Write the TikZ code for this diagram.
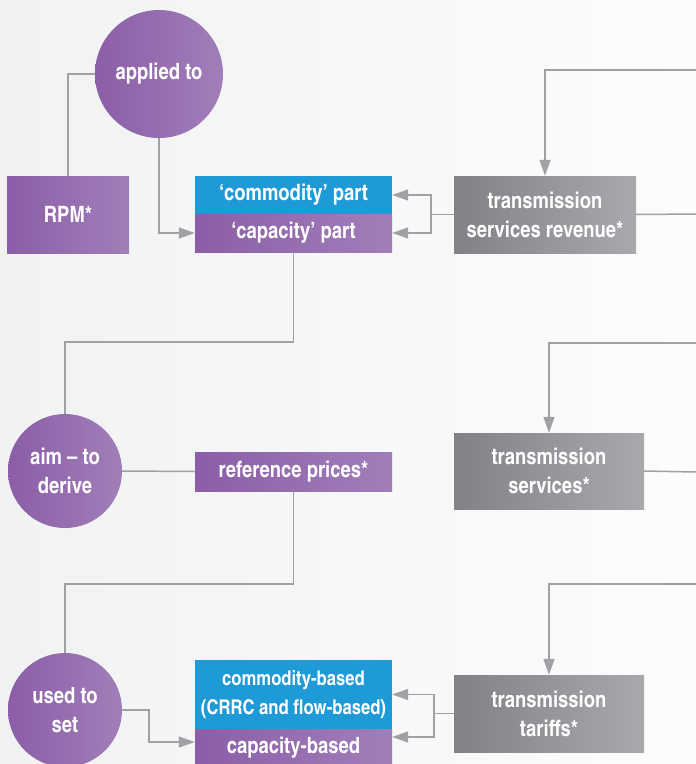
\documentclass[tikz,border=0pt]{standalone}
\usepackage{fontspec}
\setmainfont{texgyreheroscn}[Extension=.otf, UprightFont=*-regular, BoldFont=*-bold]
\usetikzlibrary{arrows.meta}

\definecolor{purpleL}{RGB}{139,94,167}
\definecolor{purpleR}{RGB}{161,126,185}
\definecolor{blueBox}{RGB}{30,155,215}
\definecolor{grayL}{RGB}{128,130,133}
\definecolor{grayR}{RGB}{168,169,172}
\definecolor{lineGray}{RGB}{160,161,164}
\definecolor{bgL}{RGB}{241,242,242}
\definecolor{bgR}{RGB}{252,252,252}

\tikzset{
  every node/.style={text=white, font=\fontsize{22.5}{29}\selectfont\bfseries, align=center, inner sep=0pt},
  purplebox/.style={rectangle, left color=purpleL, right color=purpleR},
  bluebox/.style={rectangle, fill=blueBox},
  graybox/.style={rectangle, left color=grayL, right color=grayR},
  bubble/.style={circle, left color=purpleL, right color=purpleR},
  grayline/.style={draw=lineGray, line width=1.5pt},
  grayarrow/.style={grayline, -{Triangle[length=16pt, width=11pt]}}
}

\begin{document}
\begin{tikzpicture}[x=1pt, y=-1pt]
\useasboundingbox (0,0) rectangle (696,764);
\clip (0,0) rectangle (696,764);
\shade[left color=bgL, right color=bgR] (0,0) rectangle (696,764);

\node[bubble, minimum size=128pt] (applied) at (159,74) {applied to};
\node[purplebox, minimum width=122pt, minimum height=77pt] (rpm) at (68,214.5) {RPM*};
\node[bluebox, minimum width=197pt, minimum height=38pt] (compart) at (293.5,195) {‘commodity’ part};
\node[purplebox, minimum width=197pt, minimum height=38pt] (cappart) at (293.5,233) {‘capacity’ part};
\node[graybox, minimum width=182pt, minimum height=77pt] (tsr) at (545,214.5) {transmission\\services revenue*};

\node[bubble, minimum size=114pt] (aim) at (65,471) {aim – to\\derive};
\node[purplebox, minimum width=197pt, minimum height=39pt] (refprices) at (293.5,471.5) {reference prices*};
\node[graybox, minimum width=190pt, minimum height=76pt] (ts) at (549,471) {transmission\\services*};

\node[bubble, minimum size=114pt] (used) at (65,710) {used to\\set};
\node[bluebox, minimum width=197pt, minimum height=69pt, font=\fontsize{20.3}{29}\selectfont\bfseries] (combased) at (293.5,694.5) {commodity-based\\(CRRC and flow-based)};
\node[purplebox, minimum width=197pt, minimum height=38pt] (capbased) at (293.5,748) {capacity-based};
\node[graybox, minimum width=190pt, minimum height=77pt] (tt) at (549,713.5) {transmission\\tariffs*};

\coordinate (in1) at (696,70);
\coordinate (out1) at (696,214);
\coordinate (in2) at (696,343);
\coordinate (out2) at (696,472);
\coordinate (in3) at (696,584);
\coordinate (fork1) at (431,214.5);
\coordinate (fork3) at (434,713.5);

\draw[grayline] (applied.west) -| (rpm.north);
\draw[grayarrow] (applied.south) |- (cappart.west);
\draw[grayline] (tsr.west) -- (fork1);
\draw[grayarrow] (fork1) |- (compart.east);
\draw[grayarrow] (fork1) |- (cappart.east);
\draw[grayarrow] (in1) -| (tsr.north);
\draw[grayline] (tsr.east) -- (out1);

\draw[grayline] (cappart.south) -- ++(0,90) -| (aim.north);
\draw[grayline] (aim.east) -- (refprices.west);
\draw[grayarrow] (in2) -| (ts.north);
\draw[grayline] (ts.east) -- (out2);

\draw[grayline] (refprices.south) -- ++(0,93) -| (used.north);
\draw[grayarrow] (used.east) -- ++(27,0) |- ([yshift=6pt]capbased.west);
\draw[grayline] (tt.west) -- (fork3);
\draw[grayarrow] (fork3) |- (combased.east);
\draw[grayarrow] (fork3) |- ([yshift=11pt]capbased.east);
\draw[grayarrow] (in3) -| (tt.north);
\end{tikzpicture}
\end{document}
